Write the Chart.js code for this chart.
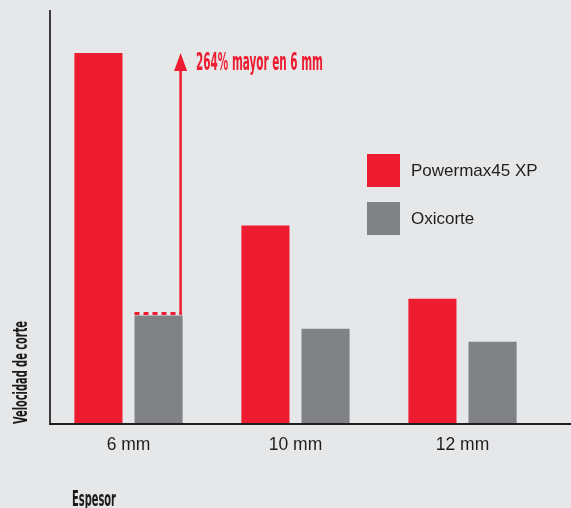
<!DOCTYPE html>
<html>
<head>
<meta charset="utf-8">
<script src="https://cdn.jsdelivr.net/npm/chart.js@4"></script>
<style>
  html, body { margin: 0; padding: 0; background: #e6e7e9; }
  #wrap { width: 571px; height: 508px; }
</style>
</head>
<body>
<div id="wrap"><canvas id="corte"></canvas></div>
<script>
// datos
var espesores = ['6 mm', '10 mm', '12 mm'];
var powermax = [89.6, 47.8, 30.1];
var oxicorte = [26.0, 22.8, 19.7];
var serieNombres = ['Powermax45 XP', 'Oxicorte'];
var notaTexto = '264% mayor en 6 mm';

var ROJO = '#ee1c31';
var GRIS = '#808285';
var narrow = '"Liberation Sans Narrow", "DejaVu Sans Condensed", "Roboto", sans-serif';

// texto condensado ajustado a un ancho
function textoAncho(ctx, txt, x, y, ancho, font, color) {
  ctx.save();
  ctx.font = font;
  ctx.fillStyle = color;
  ctx.textBaseline = 'alphabetic';
  var w = ctx.measureText(txt).width;
  ctx.translate(x, y);
  ctx.scale(ancho / w, 1);
  ctx.fillText(txt, 0, 0);
  ctx.restore();
}

var extras = {
  id: 'extras',
  afterDraw: function (chart) {
    var ctx = chart.ctx;
    var x = chart.scales.x;
    var y = chart.scales.y;
    var y0 = y.getPixelForValue(0);

    // ejes
    ctx.save();
    ctx.strokeStyle = '#3a3a3c';
    ctx.lineWidth = 2;
    ctx.beginPath();
    ctx.moveTo(50, 10);
    ctx.lineTo(50, y0 + 1);
    ctx.stroke();
    ctx.strokeStyle = '#1e1e1e';
    ctx.beginPath();
    ctx.moveTo(49, y0 + 1);
    ctx.lineTo(chart.width, y0 + 1);
    ctx.stroke();

    // etiquetas de categoria
    ctx.font = '17.5px "Liberation Sans", Arial, sans-serif';
    ctx.fillStyle = '#1e1e1e';
    ctx.textAlign = 'center';
    ctx.textBaseline = 'alphabetic';
    for (var i = 0; i < espesores.length; i++) {
      ctx.fillText(espesores[i], x.getPixelForValue(i), 450);
    }
    ctx.restore();

    // titulos
    textoAncho(ctx, 'Espesor', 72, 506, 44, 'bold 21px ' + narrow, '#1a1a1a');
    ctx.save();
    ctx.translate(27, 424);
    ctx.rotate(-Math.PI / 2);
    textoAncho(ctx, 'Velocidad de corte', 0, 0, 103, 'bold 20px ' + narrow, '#1a1a1a');
    ctx.restore();

    // flecha del 264%
    var barG = chart.getDatasetMeta(1).data[0];
    var barR = chart.getDatasetMeta(0).data[0];
    var ax = barG.x + barG.width / 2 - 2;
    var yBase = barG.y - 2;
    var yTop = barR.y;
    ctx.save();
    ctx.strokeStyle = ROJO;
    ctx.fillStyle = ROJO;
    ctx.lineWidth = 3;
    ctx.setLineDash([5, 4]);
    ctx.beginPath();
    ctx.moveTo(barG.x - barG.width / 2, yBase);
    ctx.lineTo(ax + 1, yBase);
    ctx.stroke();
    ctx.setLineDash([]);
    ctx.lineWidth = 2.5;
    ctx.beginPath();
    ctx.moveTo(ax, yBase + 1);
    ctx.lineTo(ax, yTop + 14);
    ctx.stroke();
    ctx.beginPath();
    ctx.moveTo(ax, yTop);
    ctx.lineTo(ax + 6.5, yTop + 18);
    ctx.lineTo(ax - 6.5, yTop + 18);
    ctx.closePath();
    ctx.fill();
    ctx.restore();
    textoAncho(ctx, notaTexto, 196, 70, 127, 'bold 24px ' + narrow, ROJO);

    // leyenda
    var colores = [ROJO, GRIS];
    ctx.save();
    ctx.font = '17px "Liberation Sans", Arial, sans-serif';
    ctx.textBaseline = 'middle';
    ctx.textAlign = 'left';
    for (var k = 0; k < serieNombres.length; k++) {
      var ly = 154 + k * 48;
      ctx.fillStyle = colores[k];
      ctx.fillRect(367, ly, 33, 33);
      ctx.fillStyle = '#1e1e1e';
      ctx.fillText(serieNombres[k], 411, ly + 17);
    }
    ctx.restore();
  }
};

var ctx = document.getElementById('corte');
var grafico = new Chart(ctx, {
  type: 'bar',
  data: {
    labels: espesores,
    datasets: [
      { label: serieNombres[0], data: powermax, backgroundColor: ROJO },
      { label: serieNombres[1], data: oxicorte, backgroundColor: GRIS }
    ]
  },
  options: {
    responsive: true,
    maintainAspectRatio: false,
    animation: false,
    devicePixelRatio: 1,
    categoryPercentage: 0.72,
    barPercentage: 0.8,
    layout: { padding: { left: 45, right: 25, top: 10, bottom: 85 } },
    plugins: { legend: { display: false }, tooltip: { enabled: false } },
    scales: {
      x: { display: false },
      y: { display: false, min: 0, max: 100 }
    }
  },
  plugins: [extras]
});
</script>
</body>
</html>
